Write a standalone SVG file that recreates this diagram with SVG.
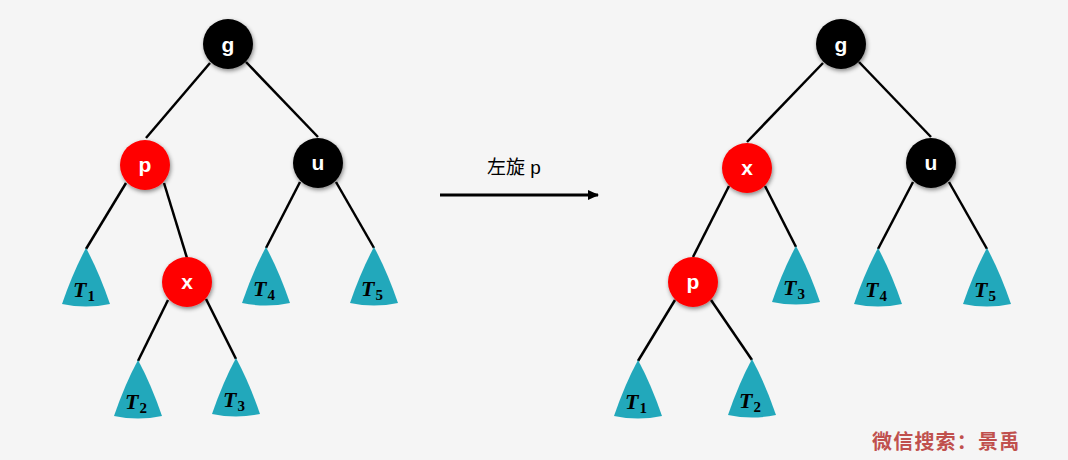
<svg xmlns="http://www.w3.org/2000/svg" width="1068" height="460" viewBox="0 0 1068 460">
<defs>
<filter id="sh" x="-40%" y="-40%" width="180%" height="180%">
<feDropShadow dx="1" dy="2" stdDeviation="2" flood-color="#000" flood-opacity="0.45"/>
</filter>
<path id="tri" d="M0,0 Q-13,24 -24,56 Q0,61 24,56 Q13,24 0,0 Z"/>
<marker id="arr" markerWidth="12" markerHeight="12" refX="10" refY="5" orient="auto" markerUnits="userSpaceOnUse">
<path d="M0,0 L11,5 L0,10 Z" fill="#000"/>
</marker>
</defs>
<style>
.edge{stroke:#000;stroke-width:2.5;fill:none}
.blk{fill:#000;filter:url(#sh)}
.red{fill:#ff0000;filter:url(#sh)}
.lbl{font-family:"Liberation Sans",Arial,sans-serif;font-weight:bold;font-size:21px;fill:#fff;text-anchor:middle}
.tri{fill:#22a8bb}
.tt{font-family:"Liberation Serif","DejaVu Serif",serif;font-weight:bold;fill:#000}
.tt .T{font-style:italic;font-size:22px}
.tt .s{font-size:15px}
</style>
<rect width="1068" height="460" fill="#f5f5f5"/>
<g id="connectors">
<line class="edge" x1="210" y1="63" x2="146" y2="138"/>
<line class="edge" x1="246" y1="62" x2="318" y2="137"/>
<line class="edge" x1="126" y1="183" x2="86" y2="249"/>
<line class="edge" x1="164" y1="183" x2="187" y2="258"/>
<line class="edge" x1="168" y1="300" x2="138" y2="361"/>
<line class="edge" x1="206" y1="299" x2="236" y2="359"/>
<line class="edge" x1="300" y1="182" x2="266" y2="248"/>
<line class="edge" x1="336" y1="182" x2="374" y2="248"/>
<line class="edge" x1="823" y1="63" x2="747" y2="142"/>
<line class="edge" x1="859" y1="62" x2="931" y2="137"/>
<line class="edge" x1="729" y1="186" x2="693" y2="257"/>
<line class="edge" x1="765" y1="186" x2="796" y2="247"/>
<line class="edge" x1="913" y1="182" x2="878" y2="249"/>
<line class="edge" x1="949" y1="182" x2="987" y2="249"/>
<line class="edge" x1="675" y1="300" x2="638" y2="361"/>
<line class="edge" x1="711" y1="300" x2="752" y2="360"/>
<line x1="440" y1="195" x2="598" y2="195" stroke="#000" stroke-width="3" marker-end="url(#arr)"/>
</g>
<g id="L_g"><circle class="blk" cx="228" cy="44" r="25"/><text class="lbl" x="228" y="52">g</text></g>
<g id="L_p"><circle class="red" cx="145" cy="165" r="25"/><text class="lbl" x="145" y="172">p</text></g>
<g id="L_u"><circle class="blk" cx="318" cy="163" r="25"/><text class="lbl" x="318" y="170">u</text></g>
<g id="L_x"><circle class="red" cx="187" cy="282" r="25"/><text class="lbl" x="187" y="289">x</text></g>
<g id="L_T1"><use href="#tri" class="tri" x="86" y="248"/><text class="tt" x="73" y="297"><tspan class="T">T</tspan><tspan class="s" dx="1" dy="4">1</tspan></text></g>
<g id="L_T2"><use href="#tri" class="tri" x="138" y="360"/><text class="tt" x="125" y="409"><tspan class="T">T</tspan><tspan class="s" dx="1" dy="4">2</tspan></text></g>
<g id="L_T3"><use href="#tri" class="tri" x="236" y="358"/><text class="tt" x="223" y="407"><tspan class="T">T</tspan><tspan class="s" dx="1" dy="4">3</tspan></text></g>
<g id="L_T4"><use href="#tri" class="tri" x="266" y="247"/><text class="tt" x="253" y="296"><tspan class="T">T</tspan><tspan class="s" dx="1" dy="4">4</tspan></text></g>
<g id="L_T5"><use href="#tri" class="tri" x="374" y="247"/><text class="tt" x="361" y="296"><tspan class="T">T</tspan><tspan class="s" dx="1" dy="4">5</tspan></text></g>
<g id="R_g"><circle class="blk" cx="841" cy="44" r="25"/><text class="lbl" x="841" y="52">g</text></g>
<g id="R_x"><circle class="red" cx="747" cy="168" r="25"/><text class="lbl" x="747" y="175">x</text></g>
<g id="R_u"><circle class="blk" cx="931" cy="163" r="25"/><text class="lbl" x="931" y="170">u</text></g>
<g id="R_p"><circle class="red" cx="693" cy="282" r="25"/><text class="lbl" x="693" y="289">p</text></g>
<g id="R_T3"><use href="#tri" class="tri" x="796" y="246"/><text class="tt" x="783" y="295"><tspan class="T">T</tspan><tspan class="s" dx="1" dy="4">3</tspan></text></g>
<g id="R_T4"><use href="#tri" class="tri" x="878" y="248"/><text class="tt" x="865" y="297"><tspan class="T">T</tspan><tspan class="s" dx="1" dy="4">4</tspan></text></g>
<g id="R_T5"><use href="#tri" class="tri" x="987" y="248"/><text class="tt" x="974" y="297"><tspan class="T">T</tspan><tspan class="s" dx="1" dy="4">5</tspan></text></g>
<g id="R_T1"><use href="#tri" class="tri" x="638" y="360"/><text class="tt" x="625" y="409"><tspan class="T">T</tspan><tspan class="s" dx="1" dy="4">1</tspan></text></g>
<g id="R_T2"><use href="#tri" class="tri" x="752" y="359"/><text class="tt" x="739" y="408"><tspan class="T">T</tspan><tspan class="s" dx="1" dy="4">2</tspan></text></g>
<text x="514" y="174" font-family="'Liberation Sans','Noto Sans CJK SC',sans-serif" font-size="19" text-anchor="middle" fill="#000">左旋 p</text>
<text x="872" y="449" font-family="'Noto Sans CJK SC',sans-serif" font-size="20" font-weight="bold" letter-spacing="1.2" fill="#c0504d">微信搜索：景禹</text>
</svg>
